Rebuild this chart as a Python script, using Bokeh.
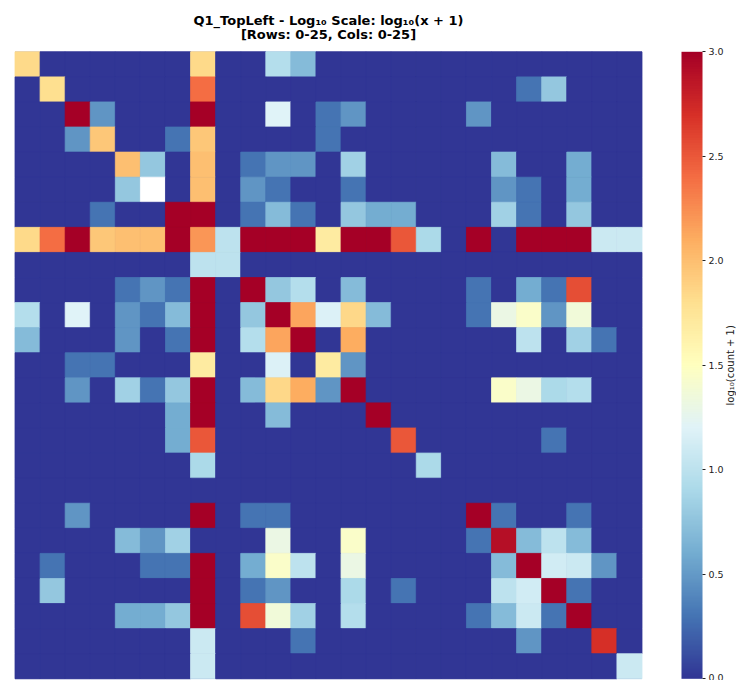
import math

import numpy as np
from bokeh.embed import file_html
from bokeh.models import (ColorBar, ColumnDataSource, FixedTicker, Label,
                          LinearColorMapper, PrintfTickFormatter, Range1d)
from bokeh.plotting import figure
from bokeh.resources import INLINE

# Raw co-occurrence counts for the top-left 25x25 block (NaN = missing cell)
NAN = float("nan")
counts = [
    [67, 0, 0, 0, 0, 0, 0, 67, 0, 0, 8, 4, 0, 0, 0, 0, 0, 0, 0, 0, 0, 0, 0, 0, 0],
    [0, 62, 0, 0, 0, 0, 0, 250, 0, 0, 0, 0, 0, 0, 0, 0, 0, 0, 0, 0, 1, 5, 0, 0, 0],
    [0, 0, 1500, 2, 0, 0, 0, 1500, 0, 0, 15, 0, 1, 2, 0, 0, 0, 0, 2, 0, 0, 0, 0, 0, 0],
    [0, 0, 2, 88, 0, 0, 1, 88, 0, 0, 0, 0, 1, 0, 0, 0, 0, 0, 0, 0, 0, 0, 0, 0, 0],
    [0, 0, 0, 0, 99, 5, 0, 99, 0, 1, 2, 2, 0, 6, 0, 0, 0, 0, 0, 4, 0, 0, 3, 0, 0],
    [0, 0, 0, 0, 5, NAN, 0, 99, 0, 2, 1, 0, 0, 1, 0, 0, 0, 0, 0, 2, 1, 0, 3, 0, 0],
    [0, 0, 0, 1, 0, 0, 1500, 1500, 0, 1, 4, 1, 0, 5, 3, 3, 0, 0, 0, 6, 1, 0, 5, 0, 0],
    [67, 250, 1500, 88, 99, 99, 1500, 160, 9, 1500, 1500, 1500, 49, 1500, 1500, 316, 7, 0, 1500, 0, 1500, 1500, 1500, 11, 11],
    [0, 0, 0, 0, 0, 0, 0, 9, 9, 0, 0, 0, 0, 0, 0, 0, 0, 0, 0, 0, 0, 0, 0, 0, 0],
    [0, 0, 0, 0, 1, 2, 1, 1500, 0, 1500, 5, 8, 0, 4, 0, 0, 0, 0, 1, 0, 3, 1, 354, 0, 0],
    [8, 0, 15, 0, 2, 1, 4, 1500, 0, 5, 1500, 135, 14, 70, 4, 0, 0, 0, 1, 19, 27, 2, 22, 0, 0],
    [4, 0, 0, 0, 2, 0, 1, 1500, 0, 8, 135, 1500, 0, 125, 0, 0, 0, 0, 0, 0, 9, 0, 6, 1, 0],
    [0, 0, 1, 1, 0, 0, 0, 49, 0, 0, 14, 0, 49, 2, 0, 0, 0, 0, 0, 0, 0, 0, 0, 0, 0],
    [0, 0, 2, 0, 6, 1, 5, 1500, 0, 4, 70, 125, 2, 1500, 0, 0, 0, 0, 0, 27, 19, 7, 8, 0, 0],
    [0, 0, 0, 0, 0, 0, 3, 1500, 0, 0, 4, 0, 0, 0, 1500, 0, 0, 0, 0, 0, 0, 0, 0, 0, 0],
    [0, 0, 0, 0, 0, 0, 3, 316, 0, 0, 0, 0, 0, 0, 0, 316, 0, 0, 0, 0, 0, 1, 0, 0, 0],
    [0, 0, 0, 0, 0, 0, 0, 7, 0, 0, 0, 0, 0, 0, 0, 0, 7, 0, 0, 0, 0, 0, 0, 0, 0],
    [0, 0, 0, 0, 0, 0, 0, 0, 0, 0, 0, 0, 0, 0, 0, 0, 0, 0, 0, 0, 0, 0, 0, 0, 0],
    [0, 0, 2, 0, 0, 0, 0, 1500, 0, 1, 1, 0, 0, 0, 0, 0, 0, 0, 1500, 1, 0, 0, 1, 0, 0],
    [0, 0, 0, 0, 4, 2, 6, 0, 0, 0, 19, 0, 0, 27, 0, 0, 0, 0, 1, 800, 4, 9, 4, 0, 0],
    [0, 1, 0, 0, 0, 1, 1, 1500, 0, 3, 27, 9, 0, 19, 0, 0, 0, 0, 0, 4, 1500, 12, 11, 2, 0],
    [0, 5, 0, 0, 0, 0, 0, 1500, 0, 1, 2, 0, 0, 7, 0, 1, 0, 0, 0, 9, 12, 1500, 1, 0, 0],
    [0, 0, 0, 0, 3, 3, 5, 1500, 0, 354, 22, 6, 0, 8, 0, 0, 0, 0, 1, 4, 11, 1, 1500, 0, 0],
    [0, 0, 0, 0, 0, 0, 0, 11, 0, 0, 0, 1, 0, 0, 0, 0, 0, 0, 0, 0, 2, 0, 0, 500, 0],
    [0, 0, 0, 0, 0, 0, 0, 11, 0, 0, 0, 0, 0, 0, 0, 0, 0, 0, 0, 0, 0, 0, 0, 0, 11],
]

colorbar_ticks = [0.0, 0.5, 1.0, 1.5, 2.0, 2.5, 3.0]
color_low, color_high = 0.0, 3.0

title_lines = ["Q1_TopLeft - Log\u2081\u2080 Scale: log\u2081\u2080(x + 1)",
               "[Rows: 0-25, Cols: 0-25]"]
colorbar_label = "log\u2081\u2080(count + 1)"

# RdYlBu anchor colours, low -> high (reversed scheme)
rdylbu_r_anchors = ["#313695", "#4575b4", "#74add1", "#abd9e9", "#e0f3f8", "#ffffbf",
                    "#fee090", "#fdae61", "#f46d43", "#d73027", "#a50026"]


def smooth_palette(anchors, n=256):
    rgb = np.array([[int(h[i:i + 2], 16) for i in (1, 3, 5)] for h in anchors], dtype=float)
    pos = np.linspace(0, 1, len(anchors))
    t = np.linspace(0, 1, n)
    out = np.stack([np.interp(t, pos, rgb[:, k]) for k in range(3)], axis=1)
    return ["#%02x%02x%02x" % tuple(int(round(c)) for c in row) for row in out]


palette = smooth_palette(rdylbu_r_anchors)

n_rows = len(counts)
n_cols = len(counts[0])
rows, cols, logv = [], [], []
for r in range(n_rows):
    for c in range(n_cols):
        rows.append(r + 0.5)
        cols.append(c + 0.5)
        v = counts[r][c]
        logv.append(math.log10(v + 1) if not math.isnan(v) else NAN)

source = ColumnDataSource(dict(x=cols, y=rows, v=logv))
mapper = LinearColorMapper(palette=palette, low=color_low, high=color_high,
                           nan_color="white")

# page geometry in pixels; the plot frame covers the whole page so that the
# heading and colour-bar caption can sit beside the grid without clipping
W, H = 736, 680
grid_left, grid_top, grid_px = 14.5, 51.3, 627.0
cell = grid_px / n_cols


def px_x(px):
    return (px - grid_left) / cell


def px_y(px):
    return (px - grid_top) / cell


p = figure(width=W, height=H, frame_width=W, frame_height=H,
           x_range=Range1d(px_x(0), px_x(W)), y_range=Range1d(px_y(H), px_y(0)),
           output_backend="svg", toolbar_location=None, title=None,
           min_border=0)
p.axis.visible = False
p.grid.visible = False
p.outline_line_color = None
p.background_fill_color = "white"

# base layer for the empty cells, then one square per cell
p.rect(x=n_cols / 2, y=n_rows / 2, width=n_cols, height=n_rows,
       fill_color=palette[0], line_color=None)
p.rect(x="x", y="y", width=1, height=1, source=source,
       fill_color={"field": "v", "transform": mapper},
       line_color={"field": "v", "transform": mapper}, line_width=0.8)

# centred two-line heading above the grid
for text, baseline_px in zip(title_lines, (20.0, 34.0)):
    p.add_layout(Label(x=n_cols / 2, y=px_y(baseline_px), text=text,
                       text_align="center", text_baseline="alphabetic",
                       text_font="DejaVu Sans", text_font_size="13px",
                       text_font_style="bold", text_color="black"))

cb = ColorBar(color_mapper=mapper, ticker=FixedTicker(ticks=colorbar_ticks),
              formatter=PrintfTickFormatter(format="%.1f"),
              location=(681, H - (grid_top + grid_px)), width=21, height=int(grid_px),
              padding=0, margin=0,
              bar_line_color=None, major_tick_in=0, major_tick_out=3,
              major_tick_line_color="#222222", minor_tick_line_color=None,
              label_standoff=3, major_label_text_font="DejaVu Sans",
              major_label_text_font_size="9.5px", major_label_text_color="#222222",
              background_fill_color=None, border_line_color=None)
p.add_layout(cb, "center")

p.add_layout(Label(x=px_x(730), y=n_rows / 2, text=colorbar_label, angle=math.pi / 2,
                   text_align="center", text_baseline="middle",
                   text_font="DejaVu Sans", text_font_size="10px",
                   text_color="#222222"))

open("out.html", "w").write(file_html(p, INLINE))
